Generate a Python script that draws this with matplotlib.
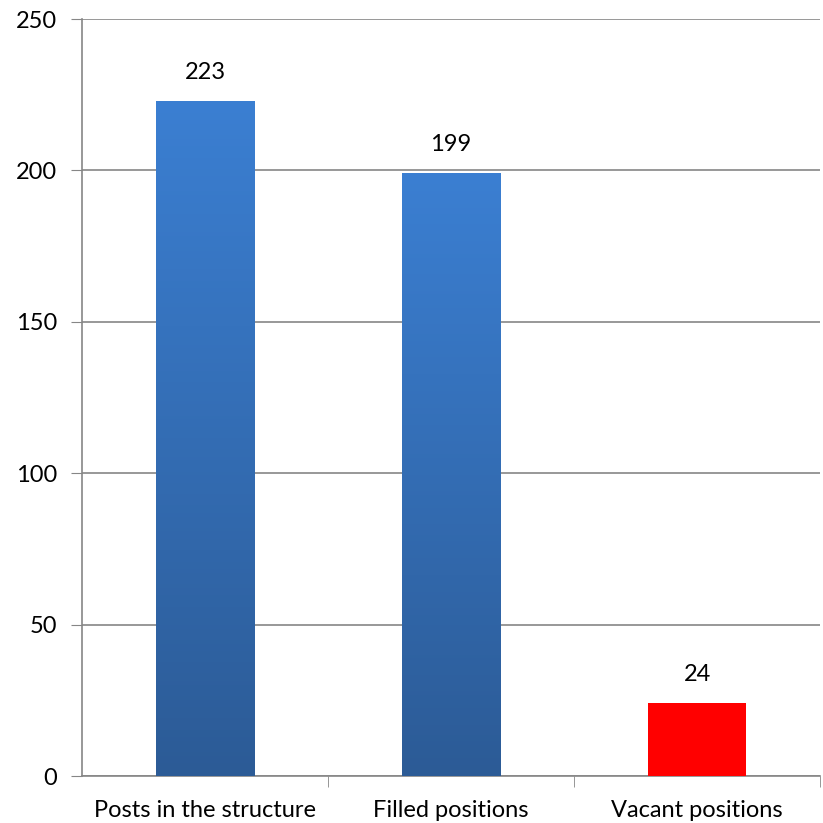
import numpy as np
import matplotlib.pyplot as plt
from matplotlib.colors import LinearSegmentedColormap

# data
categories = ["Posts in the structure", "Filled positions", "Vacant positions"]
values = [223, 199, 24]
yticks = [0, 50, 100, 150, 200, 250]

plt.rcParams['font.family'] = ['Lato', 'DejaVu Sans']

fig = plt.figure(figsize=(8.23, 8.23), dpi=100)
ax = fig.add_axes([0.0996, 0.0571, 0.8968, 0.9198])

x = np.arange(len(categories))
width = 0.40
bars = ax.bar(x, values, width=width, color=["#3a7bcc", "#3a7bcc", "#ff0000"], zorder=3)

# blue bars get a vertical gradient
grad = LinearSegmentedColormap.from_list("g", ["#2c5b96", "#3b7fd2"])
for b in bars[:2]:
    x0, y0 = b.get_x(), b.get_y()
    w, h = b.get_width(), b.get_height()
    img = ax.imshow(np.linspace(0, 1, 256).reshape(-1, 1), cmap=grad, origin="lower",
                    extent=[x0, x0 + w, y0, y0 + h], aspect="auto", zorder=3.5)
    img.set_clip_path(b)
    b.set_facecolor("none")

for xi, v in zip(x, values):
    ax.text(xi, v + 6, str(v), ha="center", va="bottom", fontsize=17, color="black")

ax.set_xlim(-0.5, 2.5)
ax.set_ylim(0, 250)
ax.set_yticks(yticks)
ax.tick_params(axis="y", length=8, color="#868686", labelsize=17, pad=10)
ax.set_xticks(x)
ax.set_xticklabels(categories, fontsize=17)
ax.set_xticks([0.5, 1.5, 2.5], minor=True)
ax.tick_params(axis="x", which="major", length=0, pad=17)
ax.tick_params(axis="x", which="minor", length=8, color="#868686")
ax.grid(axis="y", color="#868686", linewidth=1.2, zorder=0)
for s in ["top", "right"]:
    ax.spines[s].set_visible(False)
for s in ["left", "bottom"]:
    ax.spines[s].set_color("#868686")
    ax.spines[s].set_linewidth(1.2)

fig.savefig("out.png", dpi=100)
